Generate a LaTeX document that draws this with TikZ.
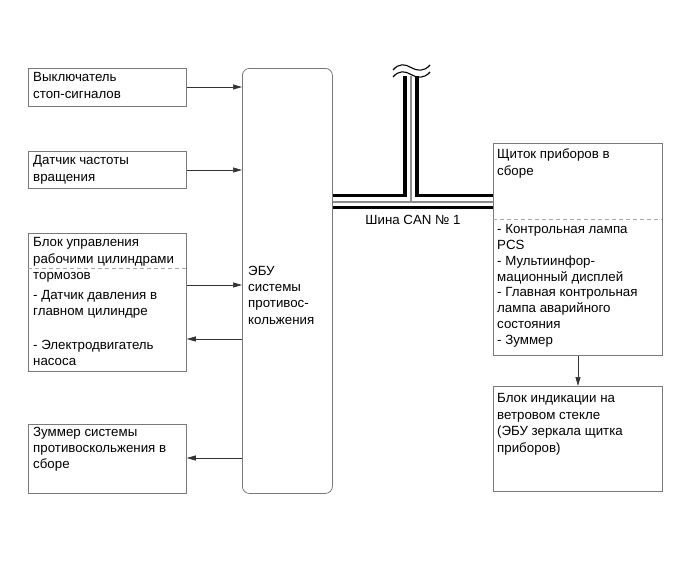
\documentclass[tikz,border=0pt]{standalone}
\usepackage{fontspec}
\setmainfont{Liberation Sans}
\usetikzlibrary{arrows.meta,calc}
\definecolor{boxgray}{HTML}{7A7A7A}
\definecolor{sepgray}{HTML}{AAAAAA}
\begin{document}
\begin{tikzpicture}[x=1pt,y=-1pt,
  box/.style={draw=boxgray, line width=0.8pt, inner sep=0pt, anchor=north west},
  ecubox/.style={box, rounded corners=7pt},
  txt/.style={anchor=north west, align=left, inner sep=0pt,
    font=\fontsize{13.3}{16.2}\selectfont, execute at begin node=\rule{0pt}{10pt}},
  conn/.style={draw=black!80, line width=0.7pt, -{Triangle[length=9pt,width=5pt]}},
  sepline/.style={draw=sepgray, line width=0.9pt, dash pattern=on 4pt off 3pt},
  busblack/.style={line width=3.6pt, black, line join=miter, line cap=butt},
  busgray/.style={line width=1.6pt, black!45, line cap=butt},
  wave/.style={line width=1.1pt, black}]
\useasboundingbox[fill=white] (0,0) rectangle (690,562);

% left boxes
\node[box, minimum width=158pt, minimum height=38pt] (b1) at (28,68) {};
\node[box, minimum width=158pt, minimum height=37pt] (b2) at (28,151) {};
\node[box, minimum width=158pt, minimum height=138pt] (b3) at (28,233) {};
\node[box, minimum width=158pt, minimum height=69pt] (b4) at (28,424) {};
% ECU
\node[ecubox, minimum width=90pt, minimum height=425pt] (ecu) at (242,68) {};
% right boxes
\node[box, minimum width=169pt, minimum height=212pt] (b5) at (493,143) {};
\node[box, minimum width=169pt, minimum height=105pt] (b6) at (493,386) {};

% separators
\coordinate (s3l) at (28,268);
\coordinate (s3r) at (186,268);
\draw[sepline] (s3l) -- (s3r);
\coordinate (s5l) at (493,219);
\coordinate (s5r) at (662,219);
\draw[sepline] (s5l) -- (s5r);

% texts
\node[txt] (t1) at (33,72.5) {Выключатель\\стоп-сигналов};
\node[txt] (t2) at (33,155.5) {Датчик частоты\\вращения};
\node[txt] (t3a) at (33,237.5) {Блок управления\\рабочими цилиндрами\\тормозов};
\node[txt] (t3b) at (33,290) {- Датчик давления в\\главном цилиндре};
\node[txt] (t3c) at (33,340) {- Электродвигатель\\насоса};
\node[txt] (t4) at (33,427) {Зуммер системы\\противоскольжения в\\сборе};
\node[txt] (tecu) at (248,266) {ЭБУ\\системы\\противос-\\кольжения};
\node[txt] (t5a) at (497,149) {Щиток приборов в\\сборе};
\node[txt, font=\fontsize{13.3}{15.9}\selectfont] (t5b) at (497,224) {- Контрольная лампа\\PCS\\- Мультиинфор-\\мационный дисплей\\- Главная контрольная\\лампа аварийного\\состояния\\- Зуммер};
\node[txt, font=\fontsize{13.3}{16.7}\selectfont] (t6) at (497,393) {Блок индикации на\\ветровом стекле\\(ЭБУ зеркала щитка\\приборов)};

% connectors
\draw[conn] (b1.east |- 0,87) -- (ecu.west |- 0,87);
\draw[conn] (b2.east |- 0,170) -- (ecu.west |- 0,170);
\draw[conn] (b3.east |- 0,285) -- (ecu.west |- 0,285);
\draw[conn] (ecu.west |- 0,339) -- (b3.east |- 0,339);
\draw[conn] (ecu.west |- 0,458) -- (b4.east |- 0,458);
\draw[conn] (b5.south -| 578,0) -- (b6.north -| 578,0);

% CAN bus
\draw[busblack] (ecu.east |- 0,207.5) -- (b5.west |- 0,207.5);
\draw[busgray] (ecu.east |- 0,202) -- (b5.west |- 0,202);
\draw[busblack] (ecu.east |- 0,195.5) -- (405,195.5) -- (405,76);
\draw[busblack] (417,76) -- (417,195.5) -- (b5.west |- 0,195.5);
\draw[busgray] (411,76) -- (411,202);
% break symbol
\draw[wave] (393,70) .. controls (399,63) and (405,64) .. (411,67.5) .. controls (417,71) and (424,72) .. (430,65);
\draw[wave] (393,77) .. controls (399,70) and (405,71) .. (411,74.5) .. controls (417,78) and (424,79) .. (430,72);
\node[font=\fontsize{13.3}{16}\selectfont, inner sep=0pt] (can) at (413,220) {Шина CAN № 1};
\end{tikzpicture}
\end{document}
